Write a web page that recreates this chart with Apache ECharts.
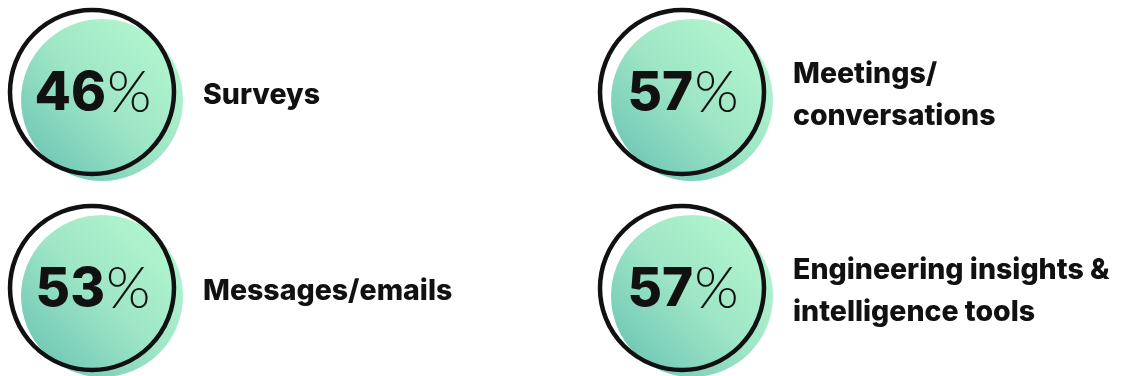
<!DOCTYPE html>
<html>
<head>
<meta charset="utf-8">
<script src="https://cdn.jsdelivr.net/npm/echarts@6/dist/echarts.min.js"></script>
<style>
  html, body { margin: 0; padding: 0; background: #fff; }
  #main { width: 1124px; height: 376px; }
</style>
</head>
<body>
<div id="main"></div>
<script>
// data, order: left column top->bottom, then right column
var names = ['Surveys', 'Messages/emails', 'Meetings/\nconversations', 'Engineering insights &\nintelligence tools'];
var values = [46, 53, 57, 57];
var cols = ['0', '1'];
var rows = ['0', '1'];

// each item sits in column floor(i/2), row i%2
var points = values.map(function (v, i) {
  return { value: [cols[Math.floor(i / 2)], rows[i % 2], v], name: names[i] };
});

var myChart = echarts.init(document.getElementById('main'));

var fill = new echarts.graphic.LinearGradient(1, 0, 0, 1, [
  { offset: 0, color: '#b9fad2' },
  { offset: 0.5, color: '#9ee6c6' },
  { offset: 1, color: '#64bfb1' }
]);

var option = {
  animation: false,
  grid: { left: 92, right: 442, top: 92, bottom: 88 },
  xAxis: { type: 'category', data: cols, boundaryGap: false, show: false },
  yAxis: { type: 'category', data: rows, boundaryGap: false, inverse: true, show: false },
  series: [
    {
      // gradient disc, shifted down-right of the ring
      type: 'scatter',
      data: points,
      symbol: 'circle',
      symbolSize: 162,
      symbolOffset: [10, 8],
      itemStyle: { color: fill, opacity: 1 },
      silent: true,
      z: 1
    },
    {
      // black ring with the percentage
      type: 'scatter',
      data: points,
      symbol: 'circle',
      symbolSize: 164,
      itemStyle: { color: 'rgba(0,0,0,0)', borderColor: '#111', borderWidth: 4.5, opacity: 1 },
      label: {
        show: true,
        position: 'inside',
        offset: [1, 2],
        formatter: function (p) { return '{n|' + p.value[2] + '}{p|%}'; },
        rich: {
          n: { fontFamily: 'Inter', fontWeight: 800, fontSize: 53, color: '#111', letterSpacing: -1.5 },
          p: { fontFamily: 'Lato', fontWeight: 300, fontSize: 57, color: '#111', padding: [0, 0, 0, 1] }
        }
      },
      silent: true,
      z: 2
    },
    {
      // category text to the right
      type: 'scatter',
      data: points,
      symbol: 'circle',
      symbolSize: 2,
      itemStyle: { color: 'rgba(0,0,0,0)' },
      label: {
        show: true,
        position: 'right',
        distance: 110,
        offset: [0, 3],
        formatter: function (p) { return p.name; },
        fontFamily: 'Inter',
        fontWeight: 800,
        fontSize: 28.5,
        lineHeight: 42,
        color: '#111',
        opacity: 1,
        align: 'left'
      },
      silent: true,
      z: 3
    }
  ]
};
myChart.setOption(option);
</script>
</body>
</html>
